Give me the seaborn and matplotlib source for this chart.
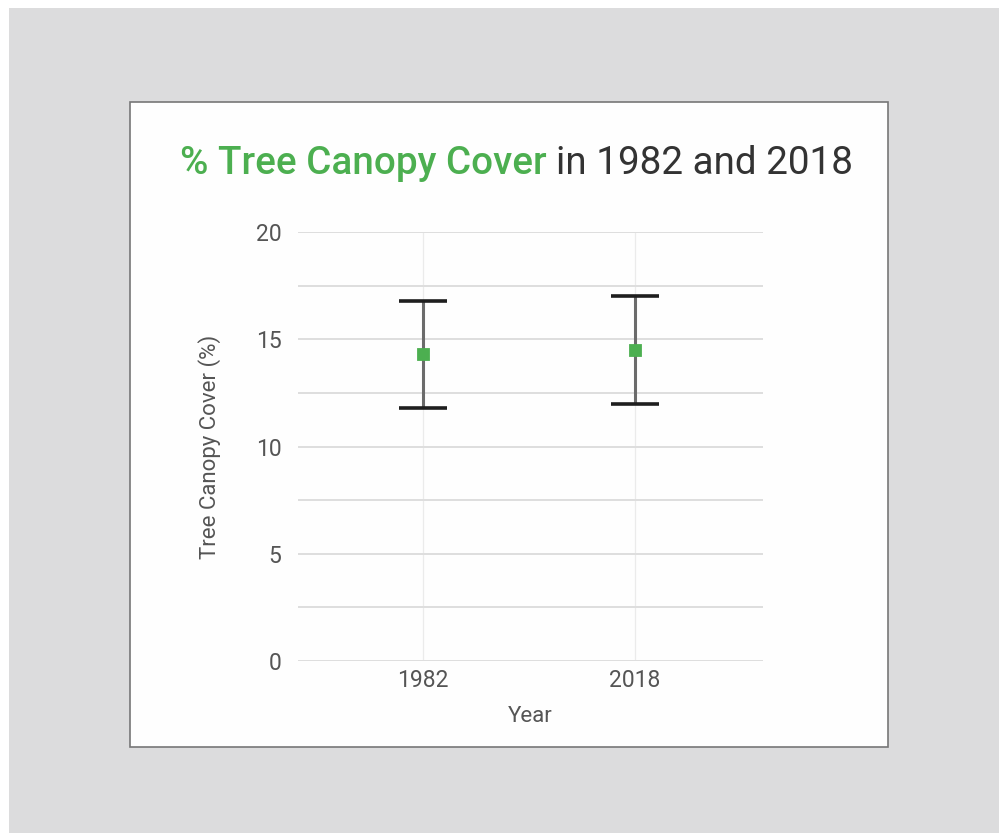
import numpy as np
import pandas as pd
import matplotlib.pyplot as plt
import seaborn as sns
from matplotlib.patches import Rectangle

# data
years = ['1982', '2018']
canopy_mean = [14.3, 14.5]
canopy_low = [11.8, 12.0]
canopy_high = [16.8, 17.0]
y_ticks = [0, 5, 10, 15, 20]

sns.set_style('white')
plt.rcParams['font.family'] = ['Roboto', 'DejaVu Sans']

W, H = 999, 833
fig = plt.figure(figsize=(W / 100, H / 100), dpi=100, facecolor='white')

# gray page and white card
fig.patches.append(Rectangle((9 / W, 0), 1 - 9 / W, 1 - 8 / H, transform=fig.transFigure,
                             facecolor='#dcdcdd', edgecolor='none', zorder=-2))
fig.patches.append(Rectangle((130 / W, 1 - 747 / H), (888 - 130) / W, (747 - 102) / H,
                             transform=fig.transFigure, facecolor='#fefefe',
                             edgecolor='#777777', linewidth=1.2, zorder=-1))

ax = fig.add_axes([298 / W, 1 - 661 / H, (763 - 298) / W, (661 - 232) / H])
ax.set_zorder(2)
ax.set_facecolor('none')

df = pd.DataFrame({'Year': years, 'Cover': canopy_mean})

# error bars: gray stem, black caps
pos = np.arange(len(years))
mean = np.array(canopy_mean)
err = [mean - np.array(canopy_low), np.array(canopy_high) - mean]
eb = ax.errorbar(pos, mean, yerr=err, fmt='none', ecolor='#6b6b6b', elinewidth=2.2,
                 capsize=17, capthick=2.6, zorder=3)
for cap in eb[1]:
    cap.set_markeredgecolor('#1e1e1e')
    cap.set_zorder(4)

sns.pointplot(data=df, x='Year', y='Cover', errorbar=None, linestyle='none',
              marker='s', markersize=7, color='#4caf50', ax=ax, zorder=5)

ax.set_xlim(-0.59, 0.604 + 1)
ax.set_ylim(0, 20)
grid_vals = np.arange(0, 20.01, 2.5)
ax.set_yticks(grid_vals)
ax.set_yticklabels([str(int(v)) if v in y_ticks else '' for v in grid_vals])
ax.grid(axis='y', color='#dedede', linewidth=1.4)
ax.grid(axis='x', color='#ebebeb', linewidth=0.9)
ax.set_axisbelow(True)
for s in ax.spines.values():
    s.set_visible(False)
ax.tick_params(length=0, labelsize=16.5, labelcolor='#555555')
ax.tick_params(axis='y', pad=12)
ax.tick_params(axis='x', pad=6)

ax.set_xlabel('Year', fontsize=16, color='#555555', labelpad=10)
ax.set_ylabel('Tree Canopy Cover (%)', fontsize=16, color='#555555', labelpad=25)

# two-colour title
t1 = fig.text(180 / W, 1 - 163 / H, '% Tree Canopy Cover', fontsize=27.8, color='#4caf50',
              fontweight='medium', va='center', ha='left')
fig.canvas.draw()
bb = t1.get_window_extent()
fig.text(bb.x1 / W + 9 / W, 1 - 163 / H, 'in 1982 and 2018', fontsize=27.8, color='#333333',
         va='center', ha='left')

fig.savefig('out.png', dpi=100)
